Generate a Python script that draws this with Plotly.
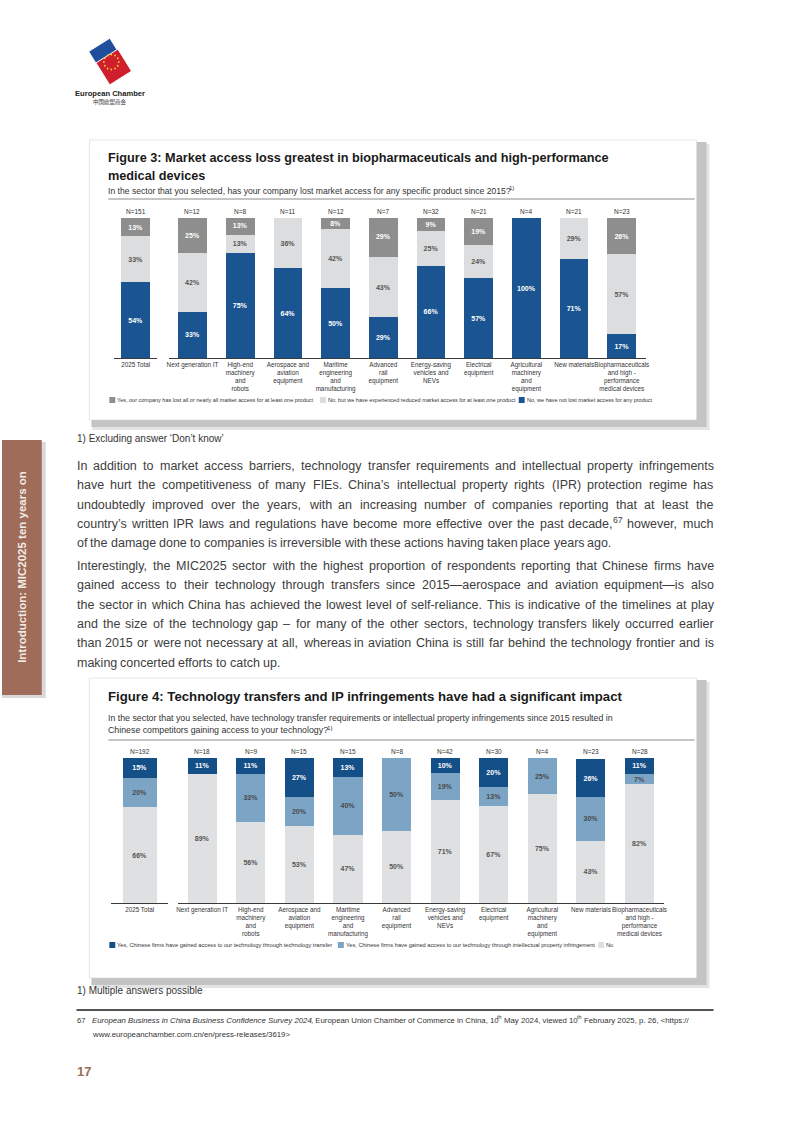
import math
import re
import plotly.graph_objects as go

W, H = 793, 1122

# ---------------- data ----------------
total_label = ["2025 Total"]
sectors = [
    "Next generation IT",
    "High-end<br>machinery<br>and<br>robots",
    "Aerospace and<br>aviation<br>equipment",
    "Maritime<br>engineering<br>and<br>manufacturing",
    "Advanced<br>rail<br>equipment",
    "Energy-saving<br>vehicles and<br>NEVs",
    "Electrical<br>equipment",
    "Agricultural<br>machinery<br>and<br>equipment",
    "New materials",
    "Biopharmaceuticals<br>and high -<br>performance<br>medical devices",
]

# Figure 3 (first value = 2025 Total, then sectors)
f3_n = [151, 12, 8, 11, 12, 7, 32, 21, 4, 21, 23]
f3_lost_all = [13, 25, 13, 0, 8, 29, 9, 19, 0, 0, 26]
f3_reduced = [33, 42, 13, 36, 42, 43, 25, 24, 0, 29, 57]
f3_not_lost = [54, 33, 75, 64, 50, 29, 66, 57, 100, 71, 17]
f3_series_names = [
    "No, we have not lost market access for any product",
    "No, but we have experienced reduced market access for at least one product",
    "Yes, our company has lost all or nearly all market access for at least one product",
]

# Figure 4
f4_n = [192, 18, 9, 15, 15, 8, 42, 30, 4, 23, 28]
f4_transfer = [15, 11, 11, 27, 13, 0, 10, 20, 0, 26, 11]
f4_ip = [20, 0, 33, 20, 40, 50, 19, 13, 25, 30, 7]
f4_no = [66, 89, 56, 53, 47, 50, 71, 67, 75, 43, 82]
f4_series_names = [
    "No",
    "Yes, Chinese firms have gained access to our technology through intellectual property infringement",
    "Yes, Chinese firms have gained access to our technology through technology transfer",
]

# ---------------- styles ----------------
C_BLUE = "#1a5592"
C_DGRAY = "#8e8e8e"
C_LGRAY = "#dcdddf"
C4_DBLUE = "#154f87"
C4_MBLUE = "#7ca4c5"
C4_LGRAY = "#dfe0e2"
SANS = "Liberation Sans, Arial, sans-serif"
BROWN = "#9e6c58"


def px(x):
    return x / W


def py(y):
    return 1 - y / H


fig = go.Figure()


def add_stack(series, colors, textcolors, names, xa_total, ya_total, xa_rest, ya_rest, w_total, w_rest):
    for vals, col, tcol, name in zip(series, colors, textcolors, names):
        for cats, v, xa, ya, w in [
            (total_label, vals[:1], xa_total, ya_total, w_total),
            (sectors, vals[1:], xa_rest, ya_rest, w_rest),
        ]:
            keep = [(c, t) for c, t in zip(cats, v) if t > 0]
            if not keep:
                continue
            fig.add_trace(go.Bar(
                x=[c for c, _ in keep], y=[t for _, t in keep], name=name,
                marker=dict(color=col, line=dict(width=0)),
                width=w, xaxis=xa, yaxis=ya,
                text=[f"{t}%" for _, t in keep],
                textposition="inside", insidetextanchor="middle",
                constraintext="none",
                textfont=dict(color=tcol, size=7, family=SANS, weight="bold"),
                hoverinfo="skip", showlegend=False,
            ))


add_stack([f3_not_lost, f3_reduced, f3_lost_all],
          [C_BLUE, C_LGRAY, C_DGRAY], ["white", "#555555", "white"], f3_series_names,
          "x", "y", "x2", "y2", 0.67, 0.6)
add_stack([f4_no, f4_ip, f4_transfer],
          [C4_LGRAY, C4_MBLUE, C4_DBLUE], ["#555555", "#4a4a4a", "white"], f4_series_names,
          "x3", "y3", "x4", "y4", 0.6, 0.6)

xcommon = dict(showline=True, linecolor="#3a3a3a", linewidth=1, ticks="", showgrid=False,
               tickfont=dict(size=6.3, family=SANS, color="#333333"), fixedrange=True,
               tickangle=0, zeroline=False, type="category", categoryorder="array")
ycommon = dict(visible=False, range=[0, 100], fixedrange=True, showgrid=False)

fig.update_layout(
    width=W, height=H, margin=dict(l=0, r=0, t=0, b=0),
    paper_bgcolor="white", plot_bgcolor="rgba(0,0,0,0)",
    barmode="stack", showlegend=False,
    xaxis=dict(domain=[px(113), px(156)], anchor="y", categoryarray=total_label, **xcommon),
    xaxis2=dict(domain=[px(167.7), px(647.7)], anchor="y2", categoryarray=sectors, **xcommon),
    xaxis3=dict(domain=[px(110), px(167)], anchor="y3", categoryarray=total_label, **xcommon),
    xaxis4=dict(domain=[px(177), px(666)], anchor="y4", categoryarray=sectors, **xcommon),
    yaxis=dict(domain=[py(358), py(218)], anchor="x", **ycommon),
    yaxis2=dict(domain=[py(358), py(218)], anchor="x2", **ycommon),
    yaxis3=dict(domain=[py(903), py(758)], anchor="x3", **ycommon),
    yaxis4=dict(domain=[py(903), py(758)], anchor="x4", **ycommon),
)

annotations = []
shapes = []


def txt(x, y, s, size, color="#333333", family=SANS, xanchor="left", yanchor="middle", **kw):
    annotations.append(dict(x=px(x), y=py(y), xref="paper", yref="paper", text=s, showarrow=False,
                            xanchor=xanchor, yanchor=yanchor, borderpad=0, borderwidth=0,
                            font=dict(size=size, color=color, family=family), **kw))


def rect(x0, y0, x1, y1, fill, line=None, lw=0, layer="below"):
    shapes.append(dict(type="rect", xref="paper", yref="paper", x0=px(x0), x1=px(x1),
                       y0=py(y1), y1=py(y0), fillcolor=fill,
                       line=dict(color=line or fill, width=lw), layer=layer))


def hline(x0, x1, y, color, width):
    shapes.append(dict(type="line", xref="paper", yref="paper", x0=px(x0), x1=px(x1),
                       y0=py(y), y1=py(y), line=dict(color=color, width=width)))


# Arial / Liberation Sans advance widths (per 1000 em)
HELV = {' ': 278, ',': 278, '.': 278, '-': 333, '(': 333, ')': 333, ':': 278, ';': 278, '?': 556,
        '/': 278, '<': 584, '>': 584, '=': 584, '&': 667,
        '’': 222, '‘': 222, "'": 191, '—': 1000, '–': 556,
        'A': 667, 'B': 667, 'C': 722, 'D': 722, 'E': 667, 'F': 611, 'G': 778, 'H': 722, 'I': 278,
        'J': 500, 'K': 667, 'L': 556, 'M': 833, 'N': 722, 'O': 778, 'P': 667, 'Q': 778, 'R': 722,
        'S': 667, 'T': 611, 'U': 722, 'V': 667, 'W': 944, 'X': 667, 'Y': 667, 'Z': 611,
        'a': 556, 'b': 556, 'c': 500, 'd': 556, 'e': 556, 'f': 278, 'g': 556, 'h': 556, 'i': 222,
        'j': 222, 'k': 500, 'l': 222, 'm': 833, 'n': 556, 'o': 556, 'p': 556, 'q': 556, 'r': 333,
        's': 500, 't': 278, 'u': 556, 'v': 500, 'w': 722, 'x': 500, 'y': 500, 'z': 500}


def tw(s, size):
    return sum(HELV.get(ch, 556) for ch in s) * size / 1000


def esc(s):
    return s.replace("&", "&amp;").replace("<", "&lt;").replace(">", "&gt;")


def runs_text(x, y, runs, size, color, family=SANS):
    """Place a sequence of (text, style) runs; style: 'n', 'i' or 'sup'. Returns end x."""
    for s, st in runs:
        sz = size * 0.7 if st == "sup" else size
        lead = len(s) - len(s.lstrip(" "))
        x += tw(" " * lead, sz)
        core = s.strip(" ")
        if core:
            t = esc(core)
            if st == "i":
                t = f"<i>{t}</i>"
            yy = y - size * 0.33 if st == "sup" else y
            txt(x, yy, t, sz, color, family)
            x += tw(core, sz)
        trail = len(s) - len(s.rstrip(" "))
        x += tw(" " * trail, sz)
    return x


def parse_sup(w):
    parts = re.split(r"</?sup>", w)
    return [(p, "sup" if i % 2 else "n") for i, p in enumerate(parts) if p]


def runs_width(runs, size):
    return sum(tw(s, size * (0.7 if st == "sup" else 1)) for s, st in runs)


# N labels above the bars
nf = dict(size=6.5, family=SANS, color="#333333")
for xt, xr, ya, n in [("x", "x2", ("y", "y2"), f3_n), ("x3", "x4", ("y3", "y4"), f4_n)]:
    annotations.append(dict(x=total_label[0], y=100, xref=xt, yref=ya[0], text=f"N={n[0]}",
                            showarrow=False, yanchor="bottom", yshift=1, font=nf))
    for cat, v in zip(sectors, n[1:]):
        annotations.append(dict(x=cat, y=100, xref=xr, yref=ya[1], text=f"N={v}",
                                showarrow=False, yanchor="bottom", yshift=1, font=nf))

# ---------------- figure boxes ----------------
for (y0, y1) in [(140, 420), (678, 978)]:
    rect(91, y0 + 4, 712, y1 + 10, "#e3e3e3")
    rect(90, y0 + 2, 709, y1 + 7, "#c4c4c4")
    rect(88, y0, 699, y1, "white", line="#d6d6d6", lw=0.6)

# ---------------- logo ----------------
def rot_square(cx, cy, s, ang):
    a = math.radians(ang)
    pts = []
    for dx, dy in [(-1, -1), (1, -1), (1, 1), (-1, 1)]:
        x = cx + (dx * s / 2) * math.cos(a) - (dy * s / 2) * math.sin(a)
        y = cy + (dx * s / 2) * math.sin(a) + (dy * s / 2) * math.cos(a)
        pts.append((px(x), py(y)))
    return "M " + " L ".join(f"{x:.5f},{y:.5f}" for x, y in pts) + " Z"


shapes.append(dict(type="path", xref="paper", yref="paper", path=rot_square(104.5, 55.5, 25, -32),
                   fillcolor="#1f4e9c", line=dict(color="white", width=0.8)))
shapes.append(dict(type="path", xref="paper", yref="paper", path=rot_square(112.5, 67, 26, -32),
                   fillcolor="#cf1f2e", line=dict(color="white", width=1)))
for k in range(12):
    a = 2 * math.pi * k / 12
    sx, sy = 110 + 7.5 * math.cos(a), 62 + 7.5 * math.sin(a)
    shapes.append(dict(type="circle", xref="paper", yref="paper", x0=px(sx - 0.9), x1=px(sx + 0.9),
                       y0=py(sy + 0.9), y1=py(sy - 0.9), fillcolor="#f7d117", line=dict(width=0)))
txt(109, 94, "<b>European Chamber</b>", 7.6, "#222222", SANS, xanchor="center")
txt(109, 102.5, "中国欧盟商会", 5.5, "#333333", "Noto Sans CJK SC", xanchor="center")

# ---------------- figure 3 texts ----------------
txt(107, 158, "<b>Figure 3: Market access loss greatest in biopharmaceuticals and high-performance</b>", 12.7, "#1a1a1a")
txt(107, 176, "<b>medical devices</b>", 12.7, "#1a1a1a")
runs_text(107, 191, [("In the sector that you selected, has your company lost market access for any specific product since 2015?", "n"),
                     ("1)", "sup")], 8.6, "#333333")
hline(107, 697, 199, "#8a8a8a", 1)

leg3 = [(108, C_DGRAY, f3_series_names[2]), (320, C_LGRAY, f3_series_names[1]), (520, C_BLUE, f3_series_names[0])]
for x, c, s in leg3:
    rect(x, 397, x + 6, 403, c, layer="above")
    txt(x + 8, 400, s, 5.5, "#333333")

# ---------------- body text (justified) ----------------
def justify(x0, x1, y, line, size, color, last=False):
    words = [parse_sup(w) for w in line.split(" ")]
    widths = [runs_width(r, size) for r in words]
    if last or len(words) < 2:
        gap = tw(" ", size)
    else:
        gap = (x1 - x0 - sum(widths)) / (len(words) - 1)
    x = x0
    for r, wd in zip(words, widths):
        runs_text(x, y, r, size, color)
        x += wd + gap


BODY = 12.5
BCOL = "#3d3d3d"
para1 = [
    "In addition to market access barriers, technology transfer requirements and intellectual property infringements",
    "have hurt the competitiveness of many FIEs. China’s intellectual property rights (IPR) protection regime has",
    "undoubtedly improved over the years, with an increasing number of companies reporting that at least the",
    "country’s written IPR laws and regulations have become more effective over the past decade,<sup>67</sup> however, much",
    "of the damage done to companies is irreversible with these actions having taken place years ago.",
]
para2 = [
    "Interestingly, the MIC2025 sector with the highest proportion of respondents reporting that Chinese firms have",
    "gained access to their technology through transfers since 2015—aerospace and aviation equipment—is also",
    "the sector in which China has achieved the lowest level of self-reliance. This is indicative of the timelines at play",
    "and the size of the technology gap – for many of the other sectors, technology transfers likely occurred earlier",
    "than 2015 or were not necessary at all, whereas in aviation China is still far behind the technology frontier and is",
    "making concerted efforts to catch up.",
]
txt(75, 439, "1) Excluding answer ‘Don’t know’", 10, "#333333")
for y0, para in [(466, para1), (566, para2)]:
    for i, line in enumerate(para):
        justify(75, 716, y0 + i * 19.3, line, BODY, BCOL, last=(i == len(para) - 1))

# ---------------- side tab ----------------
rect(0, 442, 44, 698, "#d9d9d9")
rect(0, 440, 40, 695, BROWN)
txt(20, 567, "<b>Introduction: MIC2025 ten years on</b>", 11.5, "#f3ebe6", SANS, xanchor="center", textangle=-90)

# ---------------- figure 4 texts ----------------
txt(107, 696, "<b>Figure 4: Technology transfers and IP infringements have had a significant impact</b>", 13.2, "#1a1a1a")
txt(107, 718, "In the sector that you selected, have technology transfer requirements or intellectual property infringements since 2015 resulted in",
    8.8, "#333333")
runs_text(107, 730, [("Chinese competitors gaining access to your technology?", "n"), ("1)", "sup")], 8.8, "#333333")
hline(107, 697, 740, "#8a8a8a", 1)

leg4 = [(108, C4_DBLUE, f4_series_names[2]), (338, C4_MBLUE, f4_series_names[1]), (600, C4_LGRAY, f4_series_names[0])]
for x, c, s in leg4:
    rect(x, 942, x + 6, 948, c, layer="above")
    txt(x + 8, 945, s, 5.7, "#333333")

# ---------------- footer ----------------
txt(75, 990, "1) Multiple answers possible", 10, "#333333")
hline(75, 716, 1010, "#1a1a1a", 1.3)
txt(75, 1020, "67", 7.6, "#333333")
runs_text(91, 1020, [
    ("European Business in China Business Confidence Survey 2024", "i"),
    (", European Union Chamber of Commerce in China, 10", "n"), ("th", "sup"),
    (" May 2024, viewed 10", "n"), ("th", "sup"),
    (" February 2025, p. 26, <https://", "n"),
], 7.8, "#333333")
txt(91, 1034, "www.europeanchamber.com.cn/en/press-releases/3619&gt;", 7.8, "#333333")
txt(75, 1071, "<b>17</b>", 13, BROWN)

fig.update_layout(annotations=annotations, shapes=shapes)
fig.write_html("out.html", config={"displayModeBar": False},
               post_script="document.body.style.margin='0';document.body.style.padding='0';document.body.style.overflow='hidden';")
